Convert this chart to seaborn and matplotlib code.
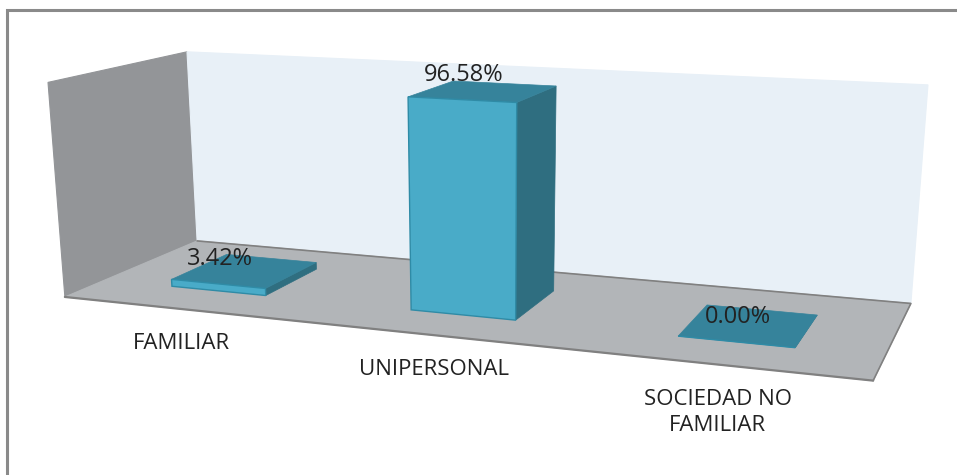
import numpy as np
import pandas as pd
import matplotlib
matplotlib.use("Agg")
import matplotlib.pyplot as plt
from matplotlib.patches import Polygon
from matplotlib.transforms import Transform
import seaborn as sns

# =========================
# Data
# =========================
categorias = ["FAMILIAR", "UNIPERSONAL", "SOCIEDAD NO\nFAMILIAR"]
valores = [3.42, 96.58, 0.00]
etiquetas = ["3.42%", "96.58%", "0.00%"]

# =========================
# Config
# =========================
Y_MAX = 100.0
DEPTH_FRONT, DEPTH_BACK = 0.28, 0.72
BAR_WIDTH = 0.405

C_FRONT = "#49abc8"
C_TOP = "#36839b"
C_SIDE = "#2f6e80"
C_EDGE = "#2f8ba6"
C_FLOOR = "#b2b5b8"
C_LEFT = "#939598"
C_BACK = "#e8f0f7"
C_LINE = "#808080"

# box corners (u, v, w) -> pixel, used to fit the camera of the 3D chart
box_3d = [(0, 0, 0), (1, 0, 0), (0, 1, 0), (1, 1, 0), (0, 0, 1), (0, 1, 1), (1, 1, 1)]
box_px = [(65, 297), (873, 381), (197, 241), (911, 303), (48, 82), (187, 52), (928, 85)]


def fit_camera(points, pixels):
    rows, rhs = [], []
    for (u, v, w), (x, y) in zip(points, pixels):
        rows.append([u, v, w, 1, 0, 0, 0, 0, -x * u, -x * v, -x * w])
        rows.append([0, 0, 0, 0, u, v, w, 1, -y * u, -y * v, -y * w])
        rhs += [x, y]
    p = np.linalg.lstsq(np.array(rows, float), np.array(rhs, float), rcond=None)[0]
    return np.append(p, 1.0).reshape(3, 4)


CAM = fit_camera(box_3d, box_px)


def project(u, v, w):
    u, v, w = np.asarray(u, float), np.asarray(v, float), np.asarray(w, float)
    h = np.stack([u, v, w, np.ones_like(u)])
    q = CAM @ h
    return q[0] / q[2], q[1] / q[2]


def to_px(x, depth, value):
    # x = category position, value = data value
    return project((np.asarray(x, float) + 0.5) / 3, depth, np.asarray(value, float) / Y_MAX)


class BarPlane(Transform):
    """(category, value) on a plane of fixed depth -> pixels."""
    input_dims = 2
    output_dims = 2

    def __init__(self, plane_depth):
        super().__init__()
        self.plane_depth = plane_depth

    def transform_non_affine(self, values):
        values = np.asarray(values, float)
        d = np.full(len(values), self.plane_depth)
        x, y = to_px(values[:, 0], d, values[:, 1])
        return np.column_stack([x, y])


# =========================
# Plot
# =========================
sns.set_theme(style="white")
plt.rcParams["font.family"] = ["Open Sans", "DejaVu Sans"]

fig = plt.figure(figsize=(9.57, 4.75), dpi=100)
ax = fig.add_axes([0, 0, 1, 1])

df = pd.DataFrame({"categoria": categorias, "valor": valores})
sns.barplot(data=df, x="categoria", y="valor", width=BAR_WIDTH, color=C_FRONT,
            saturation=1, edgecolor=C_EDGE, linewidth=1, ax=ax)

ax.set_xlim(0, 957)
ax.set_ylim(475, 0)
ax.axis("off")


def face(corners, color, z, edge=None):
    pts = [project(*c) for c in corners]
    ax.add_patch(Polygon(pts, closed=True, facecolor=color,
                         edgecolor=edge if edge else color, lw=0.8, zorder=z))


# walls and floor
face([(0, 0, 0), (0, 1, 0), (0, 1, 1), (0, 0, 1)], C_LEFT, 1)
face([(0, 1, 0), (1, 1, 0), (1, 1, 1), (0, 1, 1)], C_BACK, 1)
face([(0, 0, 0), (1, 0, 0), (1, 1, 0), (0, 1, 0)], C_FLOOR, 1.5)
xs, ys = project([0, 1, 1], [1, 1, 0], [0, 0, 0])
ax.plot(xs, ys, color=C_LINE, lw=1.2, zorder=1.6)
xs, ys = project([0, 1], [0, 0], [0, 0])
ax.plot(xs, ys, color=C_LINE, lw=1.6, zorder=1.6)

# bars: seaborn front faces + top and side faces taken from them
plano = BarPlane(DEPTH_FRONT) + ax.transData


def p3(x, d, val):
    px, py = to_px(x, d, val)
    return float(px), float(py)


for i, bar in enumerate(list(ax.patches)[:3]):
    x0, x1 = bar.get_x(), bar.get_x() + bar.get_width()
    h = bar.get_height()
    bar.set_transform(plano)
    bar.set_clip_on(False)
    bar.set_zorder(5)

    top = [p3(x0, DEPTH_FRONT, h), p3(x1, DEPTH_FRONT, h), p3(x1, DEPTH_BACK, h), p3(x0, DEPTH_BACK, h)]
    side = [p3(x1, DEPTH_FRONT, 0), p3(x1, DEPTH_BACK, 0), p3(x1, DEPTH_BACK, h), p3(x1, DEPTH_FRONT, h)]
    ax.add_patch(Polygon(side, closed=True, fc=C_SIDE, ec=C_SIDE, lw=0.5, zorder=4))
    ax.add_patch(Polygon(top, closed=True, fc=C_TOP, ec=C_TOP, lw=0.5, zorder=4.5))

    # value labels, above the front edge of the top
    lx, ly = p3(i, DEPTH_FRONT, h)
    ax.annotate(etiquetas[i], (lx + 2, ly), xytext=(0, 25), textcoords="offset pixels",
                ha="center", va="center", fontsize=17, color="#222222", zorder=7)

    # category labels, below the front edge of the floor
    lx, ly = p3(i, 0, 0)
    ax.annotate(categorias[i], (lx, ly), xytext=(0, -24), textcoords="offset pixels",
                ha="center", va="top", fontsize=16, color="#222222",
                linespacing=1.32, zorder=7)

# chart frame
ax.plot([7, 7, 957], [475, 10, 10], color="#8a8a8a", lw=2.2, solid_joinstyle="miter", clip_on=False, zorder=8)

fig.savefig("out.png", dpi=100)
